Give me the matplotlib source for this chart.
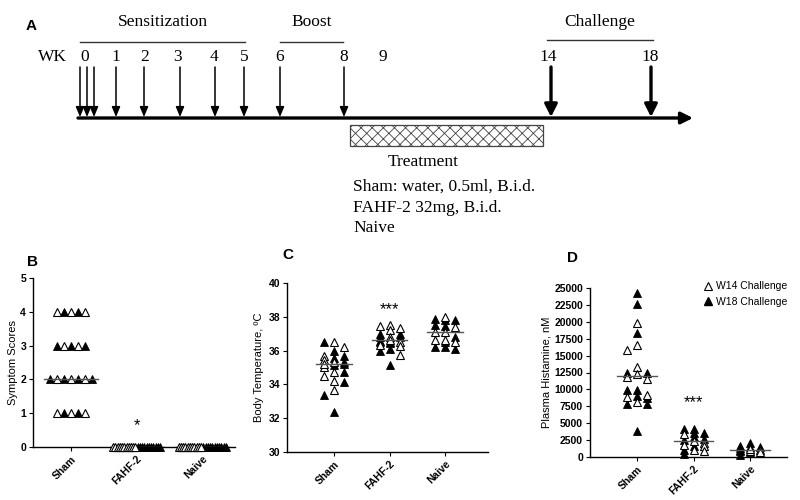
import matplotlib.pyplot as plt
import numpy as np
from matplotlib.lines import Line2D
from matplotlib.patches import Rectangle

plt.rcParams['font.family'] = ['Liberation Sans', 'DejaVu Sans']
plt.rcParams['hatch.linewidth'] = 0.6

groups = ["Sham", "FAHF-2", "Naive"]

# panel A: protocol timeline
week_labels = ["0", "1", "2", "3", "4", "5", "6", "8", "9", "14", "18"]
phase_names = ["Sensitization", "Boost", "Challenge"]
treatment_lines = ["Sham: water, 0.5ml, B.i.d.", "FAHF-2 32mg, B.i.d.", "Naive"]

# panel B: symptom scores
score_sham_w14 = [4, 4, 4, 3, 3, 2, 2, 2, 1, 1, 1]
score_sham_w18 = [4, 4, 3, 3, 3, 2, 2, 2, 2, 1, 1]
score_fahf_w14 = [0, 0, 0, 0, 0, 0, 0, 0, 0, 0, 0]
score_fahf_w18 = [0, 0, 0, 0, 0, 0, 0, 0, 0, 0, 0]
score_naive_w14 = [0, 0, 0, 0, 0, 0, 0, 0, 0, 0, 0]
score_naive_w18 = [0, 0, 0, 0, 0, 0, 0, 0, 0, 0, 0]
score_median = [2, 0, 0]

# panel C: body temperature
temp_sham_w14 = [36.5, 36.2, 35.7, 35.45, 35.3, 35.05, 34.75, 34.5, 34.2, 33.65, 35.2]
temp_sham_w18 = [36.5, 36.0, 35.7, 35.55, 35.2, 35.35, 35.15, 34.75, 34.15, 33.35, 32.35]
temp_fahf_w14 = [37.47, 37.5, 37.36, 37.2, 36.8, 36.5, 36.27, 36.33, 35.74, 36.6]
temp_fahf_w18 = [36.98, 36.98, 36.78, 36.78, 36.5, 36.55, 36.5, 36.45, 36.07, 36.0, 35.15]
temp_naive_w14 = [38.0, 37.4, 37.12, 37.1, 36.63, 36.63, 36.5]
temp_naive_w18 = [37.8, 37.85, 37.8, 37.45, 37.5, 36.83, 36.5, 36.2, 36.07, 36.2]
temp_median = [35.2, 36.6, 37.1]

# panel D: plasma histamine, nM
hist_sham_w14 = [19800, 16600, 15800, 13300, 12300, 11900, 11600, 9200, 8900, 8100]
hist_sham_w18 = [24300, 22700, 18400, 12500, 12500, 9900, 9900, 9000, 8800, 7800, 7800, 3800]
hist_fahf_w14 = [3400, 2300, 2000, 1800, 1600, 1000, 900]
hist_fahf_w18 = [3600, 4100, 3600, 4100, 2600, 2500, 1700, 1100, 450, 3000]
hist_naive_w14 = [1100, 900, 1200, 700]
hist_naive_w18 = [2000, 1600, 1500, 1500, 1300, 1100, 300, 900, 700]
hist_median = [12000, 2300, 1000]


def row_layout(w14, w18, center, step, width):
    # spread tied values side by side in one row
    x14, x18 = {}, {}
    for v in sorted(set(w14) | set(w18)):
        a = [i for i, s in enumerate(w14) if s == v]
        b = [i for i, s in enumerate(w18) if s == v]
        n = len(a) + len(b)
        if n <= 8:
            first, second = (a, b) if len(a) >= len(b) else (b, a)
            seq = []
            for k in range(max(len(first), len(second))):
                if k < len(first):
                    seq.append((first is a, first[k]))
                if k < len(second):
                    seq.append((second is a, second[k]))
        else:
            seq = [(True, i) for i in a] + [(False, i) for i in b]
        s = step if n < 2 else min(step, width / (n - 1))
        for j, (is14, i) in enumerate(seq):
            pos = center + (j - (n - 1) / 2) * s
            (x14 if is14 else x18)[i] = pos
    return [x14[i] for i in range(len(w14))], [x18[i] for i in range(len(w18))]


def swarm(ax, w14, w18, center, step_px=10, dmin=6.5):
    vals = list(w14) + list(w18)
    disp = ax.transData.transform(np.column_stack([np.full(len(vals), center), vals]))
    order = np.argsort(-np.asarray(vals), kind='stable')
    placed = []
    dx = np.zeros(len(vals))
    for i in order:
        y = disp[i, 1]
        best, best_d = 0, -1.0
        for k in (0, -1, 1):
            x = k * step_px
            d = min([np.hypot(x - px, y - py) for px, py in placed], default=1e9)
            if d >= dmin:
                best = k
                break
            if d > best_d:
                best, best_d = k, d
        placed.append((best * step_px, y))
        dx[i] = best * step_px
    ppu = ax.transData.transform((1, 0))[0] - ax.transData.transform((0, 0))[0]
    xs = center + dx / ppu
    return xs[:len(w14)], xs[len(w14):]


def style_axes(ax, xlim, ylim, yticks):
    ax.set_xlim(*xlim)
    ax.set_ylim(*ylim)
    ax.set_yticks(yticks)
    ax.set_xticks([1, 2, 3])
    ax.set_xticklabels(groups, rotation=45, ha='right', rotation_mode='anchor')
    for side in ['top', 'right']:
        ax.spines[side].set_visible(False)
    for side in ['left', 'bottom']:
        ax.spines[side].set_linewidth(1.0)
    ax.tick_params(labelsize=7.5, length=3, width=0.8, pad=2)
    for lab in ax.get_xticklabels() + ax.get_yticklabels():
        lab.set_fontweight('bold')
    ax.set_facecolor('none')


def draw_points(ax, x14, y14, x18, y18):
    ax.plot(x18, y18, linestyle='none', marker='^', ms=5.3, mfc='black', mec='black',
            mew=0.6, zorder=3, clip_on=False)
    ax.plot(x14, y14, linestyle='none', marker='^', ms=5.3, mfc='white', mec='black',
            mew=0.8, zorder=4, clip_on=False)


def draw_medians(ax, medians, half):
    for i, m in enumerate(medians):
        ax.plot([i + 1 - half, i + 1 + half], [m, m], color='#555555', lw=1.0, zorder=5)


fig = plt.figure(figsize=(8, 5), dpi=100)

# ---- panel B
ax_b = fig.add_axes([0.04125, 0.106, 0.2525, 0.338])
style_axes(ax_b, (0.42, 3.5), (0, 5), [0, 1, 2, 3, 4, 5])
ax_b.set_ylabel("Symptom Scores", fontsize=8, labelpad=2)
b_sets = [(score_sham_w14, score_sham_w18), (score_fahf_w14, score_fahf_w18),
          (score_naive_w14, score_naive_w18)]
for g, (w14, w18) in enumerate(b_sets):
    x14, x18 = row_layout(w14, w18, g + 1, 0.105, 0.72)
    draw_points(ax_b, x14, w14, x18, w18)
draw_medians(ax_b, score_median, 0.41)
ax_b.text(2, 0.62, "*", ha='center', va='center', fontsize=12)

# ---- panel C
ax_c = fig.add_axes([0.35875, 0.096, 0.25125, 0.338])
style_axes(ax_c, (0.15, 3.77), (30, 40), [30, 32, 34, 36, 38, 40])
ax_c.set_ylabel("Body Temperature, ºC", fontsize=8, labelpad=3)
c_sets = [(temp_sham_w14, temp_sham_w18), (temp_fahf_w14, temp_fahf_w18),
          (temp_naive_w14, temp_naive_w18)]
for g, (w14, w18) in enumerate(c_sets):
    x14, x18 = swarm(ax_c, w14, w18, g + 1)
    draw_points(ax_c, x14, w14, x18, w18)
draw_medians(ax_c, temp_median, 0.32)
ax_c.text(2, 38.4, "***", ha='center', va='center', fontsize=12)

# ---- panel D
ax_d = fig.add_axes([0.7375, 0.086, 0.24625, 0.338])
style_axes(ax_d, (0.17, 3.65), (0, 25000), list(range(0, 25001, 2500)))
ax_d.set_ylabel("Plasma Histamine, nM", fontsize=8, labelpad=2)
d_sets = [(hist_sham_w14, hist_sham_w18), (hist_fahf_w14, hist_fahf_w18),
          (hist_naive_w14, hist_naive_w18)]
for g, (w14, w18) in enumerate(d_sets):
    x14, x18 = swarm(ax_d, w14, w18, g + 1)
    draw_points(ax_d, x14, w14, x18, w18)
draw_medians(ax_d, hist_median, 0.35)
ax_d.text(2, 8000, "***", ha='center', va='center', fontsize=12)
handles = [Line2D([], [], linestyle='none', marker='^', ms=6, mfc='white', mec='black', mew=0.8),
           Line2D([], [], linestyle='none', marker='^', ms=6, mfc='black', mec='black')]
ax_d.legend(handles, ["W14 Challenge", "W18 Challenge"], loc='upper left',
            bbox_to_anchor=(0.58, 1.04), frameon=False, fontsize=7.5, handlelength=0.8,
            handletextpad=0.3, labelspacing=0.55, borderpad=0, borderaxespad=0)

# ---- panel A, drawn in figure pixel space
ax_a = fig.add_axes([0, 0, 1, 1], zorder=-1)
ax_a.set_xlim(0, 800)
ax_a.set_ylim(500, 0)
ax_a.axis('off')
serif = dict(family='Liberation Serif', fontsize=12.5)

label_x = [85, 116, 145, 178, 214, 244, 280, 344, 383, 548, 650]
for lab, x in zip(week_labels, label_x):
    ax_a.text(x, 57, lab, ha='center', va='center', **serif)
ax_a.text(52, 57, "WK", ha='center', va='center', **serif)

thin_x = [80, 87, 94, 116, 144, 180, 215, 244, 280, 344]
for x in thin_x:
    ax_a.annotate("", xy=(x, 117), xytext=(x, 67),
                  arrowprops=dict(arrowstyle='-|>,head_width=0.25,head_length=0.6',
                                  lw=1.1, color='black', shrinkA=0, shrinkB=0))
for x in [551, 651]:
    ax_a.annotate("", xy=(x, 117), xytext=(x, 67),
                  arrowprops=dict(arrowstyle='-|>,head_width=0.38,head_length=0.75',
                                  lw=2.4, color='black', shrinkA=0, shrinkB=0))
ax_a.annotate("", xy=(693, 118), xytext=(78, 118),
              arrowprops=dict(arrowstyle='-|>,head_width=0.35,head_length=0.7',
                              lw=2.4, color='black', shrinkA=0, shrinkB=0))

phase_spans = [(80, 245, 42), (280, 343, 42), (547, 653, 40)]
for name, (x0, x1, y) in zip(phase_names, phase_spans):
    ax_a.plot([x0, x1], [y, y], color='#333333', lw=1.0)
    ax_a.text((x0 + x1) / 2, 22, name, ha='center', va='center', **serif)

ax_a.add_patch(Rectangle((350, 125), 193, 21, facecolor='white', edgecolor='#444444',
                         hatch='xxx', lw=0.9))
ax_a.text(423, 162, "Treatment", ha='center', va='center', **serif)
for i, line in enumerate(treatment_lines):
    ax_a.text(353, 187 + i * 20.5, line, ha='left', va='center', **serif)

for letter, x, y in [("A", 31, 26), ("B", 32, 262), ("C", 288, 255), ("D", 572, 258)]:
    ax_a.text(x, y, letter, ha='center', va='center', fontsize=11, fontweight='bold')

fig.savefig("out.png", dpi=100, facecolor='white')
